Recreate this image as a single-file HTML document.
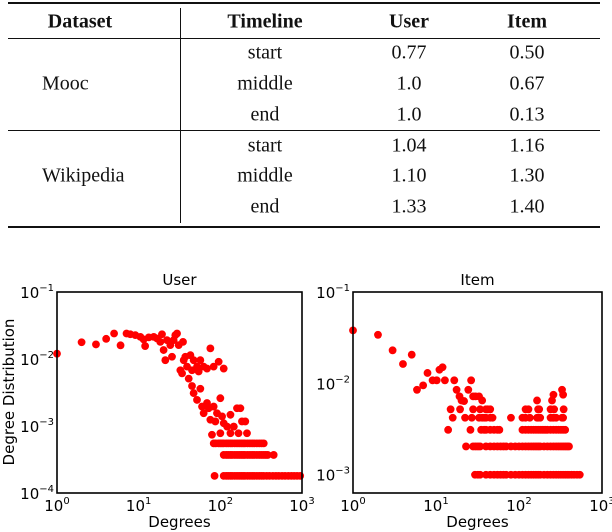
<!DOCTYPE html>
<html><head><meta charset="utf-8"><style>
body{margin:0;width:612px;height:532px;background:#fff;overflow:hidden;position:relative}
.t{position:absolute;font-family:"Liberation Serif",serif;font-size:20px;color:#111;transform:translate(-50%,-50%);white-space:nowrap}
.l{transform:translate(0,-50%)}
.b{font-weight:bold}
.rule{position:absolute;left:8px;width:592px;background:#111}
svg text{font-family:"DejaVu Sans",sans-serif;fill:#000}
</style></head><body>
<div>
<div class="rule" style="top:2px;height:2px"></div>
<div class="rule" style="top:38px;height:1px"></div>
<div class="rule" style="top:130px;height:1px"></div>
<div class="rule" style="top:226px;height:2px"></div>
<div style="position:absolute;left:180px;top:8px;width:1px;height:215px;background:#111"></div>
<div class="t b" style="left:80px;top:22px">Dataset</div>
<div class="t b" style="left:265px;top:22px">Timeline</div>
<div class="t b" style="left:409px;top:22px">User</div>
<div class="t b" style="left:527px;top:22px">Item</div>
<div class="t l" style="left:42px;top:84px">Mooc</div>
<div class="t l" style="left:42px;top:176px">Wikipedia</div>
<div class="t" style="left:265px;top:53px">start</div>
<div class="t" style="left:265px;top:84px">middle</div>
<div class="t" style="left:265px;top:115px">end</div>
<div class="t" style="left:265px;top:146px">start</div>
<div class="t" style="left:265px;top:176px">middle</div>
<div class="t" style="left:265px;top:207px">end</div>
<div class="t" style="left:409px;top:53px">0.77</div>
<div class="t" style="left:409px;top:84px">1.0</div>
<div class="t" style="left:409px;top:115px">1.0</div>
<div class="t" style="left:409px;top:146px">1.04</div>
<div class="t" style="left:409px;top:176px">1.10</div>
<div class="t" style="left:409px;top:207px">1.33</div>
<div class="t" style="left:527px;top:53px">0.50</div>
<div class="t" style="left:527px;top:84px">0.67</div>
<div class="t" style="left:527px;top:115px">0.13</div>
<div class="t" style="left:527px;top:146px">1.16</div>
<div class="t" style="left:527px;top:176px">1.30</div>
<div class="t" style="left:527px;top:207px">1.40</div>
</div>
<svg id="charts" width="612" height="532" style="position:absolute;left:0;top:0"></svg>
<script>
// User panel data (degree, distribution)
const userDeg = [1,2,3,4,5,6,7.1,7.9,9.1,10.5,11.5,12,13.3,15.3,16.8,18.4,19.3,20.2,21.2,22.2,24.4,25.6,26.8,28.1,29.5,30.9,32.4,34,34.9,35.6,37.3,39.1,41,43,45,47.1,51.8,54.3,56.9,62.5,68.7,75.5,82.8,95.4,110,
 45,47.1,51.8,56.9,59.7,62.5,68.7,72,75.5,82.8,86.9,91,100,105,110,121,133,146,160,176,184,202,212,133,100,79,146,167];
const userDist = [0.012,0.0178,0.0165,0.020,0.024,0.016,0.024,0.0234,0.0227,0.0214,0.0196,0.0156,0.021,0.0214,0.0202,0.018,0.0234,0.0136,0.0096,0.0191,0.0161,0.0108,0.0191,0.0227,0.024,0.0161,0.0068,0.0061,0.018,0.0096,0.0108,0.0077,0.0051,0.0114,0.0068,0.0096,0.0077,0.0065,0.0096,0.0077,0.0072,0.0144,0.0077,0.0091,0.0072,
 0.00395,0.0031,0.00245,0.0036,0.00195,0.00155,0.0022,0.00184,0.00124,0.00195,0.00117,0.00155,0.0026,0.00139,0.00110,0.00098,0.00147,0.00098,0.00184,0.00184,0.00117,0.00117,0.00078,0.00078,0.00078,0.00074,0.00098,0.00078];
const userRowLevels = [0.00055,0.00037,0.00018];
const userRowDegrees = [
 [83,88,95,100,105,110,118,125,133,140,150,160,170,180,190,200,215,230,245,260,280,300,320,340],
 [110,118,125,133,140,150,160,170,180,190,200,215,230,245,260,280,300,320,340,360,380,450],
 [85,110,118,125,133,140,150,160,170,180,190,200,215,230,245,260,280,300,320,340,370,400,440,480,520,570,620,680,740,800,870,950]];
// Item panel data
const itemDeg = [1,2,3,4,5.1,5.9,7,7.9,9.1,10.2,11,12,12.8,14,15,15.9,16.6,17.7,19.2,20.3,21.8,19.5,22.4,24.5,26.5,28,30,33,36,28,34,40,42,45,80,120,130,165,170,175,240,250,260,265,330,340,345];
const itemDist = [0.038,0.034,0.023,0.0163,0.0206,0.0085,0.0095,0.013,0.0108,0.0108,0.0141,0.015,0.0108,0.0031,0.0052,0.0042,0.0108,0.0085,0.0072,0.0065,0.0064,0.0052,0.0042,0.0085,0.0108,0.0072,0.0072,0.0072,0.0065,0.0052,0.0052,0.0052,0.0052,0.0052,0.0042,0.0052,0.0052,0.0065,0.0052,0.0052,0.0052,0.0065,0.0075,0.0052,0.0085,0.0075,0.0052];
const itemRowLevels = [0.0042,0.0031,0.00204,0.001];
const itemRowDegrees = [
 [27,33,36,38,40,45,48,110,120,135,165,170,180,240,250,260,280,330,340],
 [26,35,38,40,45,50,55,58,110,120,130,140,150,160,170,180,190,200,210,220,240,260,280,300,320,340,360],
 [23,28,30,32,34,40,45,50,55,60,65,70,80,90,100,110,120,130,140,150,160,170,180,200,220,240,260,280,300,320,340,360,380,400],
 [29.5,32,34,40,45,50,55,60,65,70,80,90,100,110,120,130,140,150,160,170,180,200,220,240,260,280,300,320,340,360,380,400,430,460,500,540]];
const yTicksUser = [-1,-2,-3,-4];
const yTicksItem = [-1,-2,-3];
const xTicks = [0,1,2,3];

const NS='http://www.w3.org/2000/svg';
const svg=document.getElementById('charts');
function mk(tag,attrs,parent){const e=document.createElementNS(NS,tag);for(const k in attrs)e.setAttribute(k,attrs[k]);(parent||svg).appendChild(e);return e;}
function panel(name,L,R,T,B,yMaxLog,yMinLog,title,yticks,deg,dist,rowLv,rowDeg){
  const g=mk('g',{});
  
  
  const sx=v=>L+Math.log10(v)/3*(R-L);
  const sy=v=>T+(yMaxLog-Math.log10(v))/(yMaxLog-yMinLog)*(B-T);
  const pts=mk('g',{fill:'#ff0000'},g);
  
  
  function dot(x,y){const c=mk('circle',{cx:sx(x),cy:sy(y),r:3.9},pts);
    
    }
  for(let i=0;i<deg.length;i++)dot(deg[i],dist[i]);
  rowLv.forEach((lv,j)=>rowDeg[j].forEach(d=>dot(d,lv)));
  const fr=mk('rect',{x:L,y:T,width:R-L,height:B-T,fill:'none',stroke:'#000','stroke-width':1.6},g);
  
  
  xTicks.forEach(t=>{const x=L+t/3*(R-L);
    const tx=mk('text',{x:x,y:B+18,'font-size':15,'text-anchor':'middle'},g);
    
    
    tx.innerHTML='10<tspan dy="-7" font-size="10">'+t+'</tspan>';});
  yticks.forEach(t=>{const y=T+(yMaxLog-t)/(yMaxLog-yMinLog)*(B-T);
    const tx=mk('text',{x:L-3,y:y+6,'font-size':15,'text-anchor':'end'},g);
    
    
    tx.innerHTML='10<tspan dy="-7" font-size="10">\u2212'+(-t)+'</tspan>';});
  const ti=mk('text',{x:(L+R)/2,y:T-7,'font-size':15,'text-anchor':'middle'},g);
  
  
  ti.textContent=title;
  const xl=mk('text',{x:(L+R)/2,y:527,'font-size':15,'text-anchor':'middle'},g);
  
  
  xl.textContent='Degrees';
}
panel('user-chart',57,302,292,493,-1,-4,'User',yTicksUser,userDeg,userDist,userRowLevels,userRowDegrees);
panel('item-chart',353,602,292,493,-1,-3.2,'Item',yTicksItem,itemDeg,itemDist,itemRowLevels,itemRowDegrees);
const yt=mk('text',{x:0,y:0,'font-size':15,'text-anchor':'middle',transform:'translate(14,392) rotate(-90)'});


yt.textContent='Degree Distribution';
</script>
</body></html>
